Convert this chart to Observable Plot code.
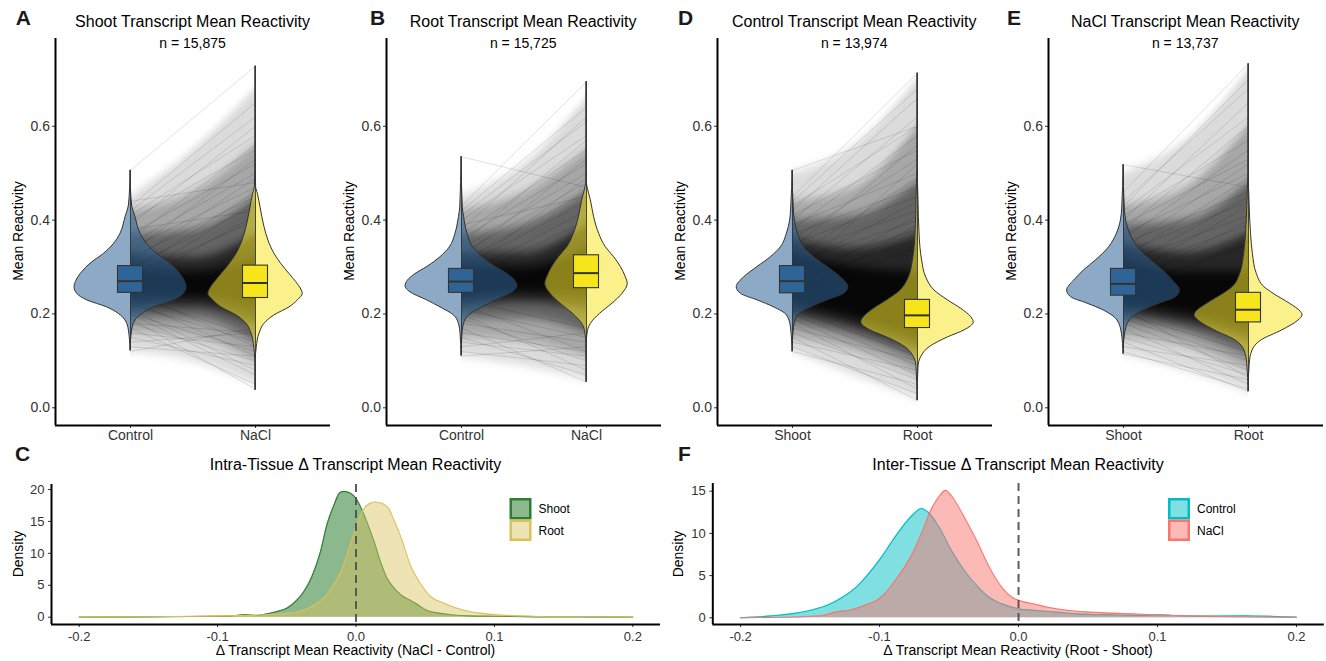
<!DOCTYPE html>
<html><head><meta charset="utf-8">
<script src="https://cdn.jsdelivr.net/npm/d3@7"></script>
<script src="https://cdn.jsdelivr.net/npm/@observablehq/plot@0.6"></script>
<style>
body{margin:0;background:#fff;}
#wrap{position:relative;width:1326px;height:661px;overflow:hidden;background:#fff;}
#wrap > .p{position:absolute;}
#wrap > svg.ov{position:absolute;left:0;top:0;pointer-events:none;}
</style></head><body><div id="wrap"></div>
<script>
// ---------------- DATA ----------------
const topLetters = ["A", "B", "D", "E"];
const topTitles = ["Shoot Transcript Mean Reactivity", "Root Transcript Mean Reactivity", "Control Transcript Mean Reactivity", "NaCl Transcript Mean Reactivity"];
const topN = ["n = 15,875", "n = 15,725", "n = 13,974", "n = 13,737"];
const topCats = [["Control", "NaCl"], ["Control", "NaCl"], ["Shoot", "Root"], ["Shoot", "Root"]];
const topYLabel = "Mean Reactivity";
const topYTicks = [0, 0.2, 0.4, 0.6];

// violin profiles: reactivity value and half-width (in category units)
const A_v1_y = [0.122, 0.165, 0.186, 0.2, 0.214, 0.229, 0.243, 0.257, 0.271, 0.289, 0.307, 0.328, 0.349, 0.371, 0.406, 0.431, 0.47, 0.506];
const A_v1_w = [0, 0.013, 0.04, 0.093, 0.187, 0.347, 0.427, 0.448, 0.432, 0.387, 0.32, 0.213, 0.133, 0.08, 0.04, 0.013, 0.003, 0];
const A_v2_y = [0.038, 0.1, 0.129, 0.158, 0.179, 0.197, 0.214, 0.229, 0.243, 0.25, 0.268, 0.285, 0.307, 0.328, 0.356, 0.385, 0.427, 0.456, 0.47, 0.548, 0.728];
const A_v2_w = [0, 0.002, 0.01, 0.032, 0.072, 0.152, 0.272, 0.339, 0.378, 0.37, 0.325, 0.272, 0.205, 0.152, 0.104, 0.072, 0.04, 0.019, 0.005, 0.001, 0];
const B_v1_y = [0.111, 0.158, 0.179, 0.197, 0.214, 0.229, 0.246, 0.259, 0.271, 0.285, 0.3, 0.321, 0.342, 0.371, 0.406, 0.427, 0.535];
const B_v1_w = [0, 0.008, 0.021, 0.061, 0.168, 0.275, 0.408, 0.448, 0.429, 0.368, 0.275, 0.168, 0.093, 0.048, 0.021, 0.01, 0];
const B_v2_y = [0.055, 0.136, 0.158, 0.179, 0.2, 0.222, 0.243, 0.264, 0.278, 0.3, 0.321, 0.342, 0.371, 0.406, 0.442, 0.47, 0.484, 0.695];
const B_v2_w = [0, 0.002, 0.008, 0.035, 0.107, 0.208, 0.288, 0.33, 0.315, 0.275, 0.221, 0.155, 0.101, 0.061, 0.035, 0.008, 0.002, 0];
const D_v1_y = [0.12, 0.172, 0.197, 0.214, 0.229, 0.243, 0.257, 0.278, 0.3, 0.321, 0.342, 0.371, 0.399, 0.427, 0.506];
const D_v1_w = [0, 0.013, 0.045, 0.147, 0.28, 0.413, 0.446, 0.387, 0.28, 0.173, 0.093, 0.045, 0.019, 0.01, 0];
const D_v2_y = [0.016, 0.087, 0.108, 0.129, 0.15, 0.165, 0.182, 0.193, 0.211, 0.229, 0.25, 0.278, 0.314, 0.371, 0.442, 0.513, 0.713];
const D_v2_w = [0, 0.008, 0.029, 0.096, 0.243, 0.376, 0.45, 0.43, 0.349, 0.243, 0.136, 0.069, 0.037, 0.016, 0.008, 0.002, 0];
const E_v1_y = [0.115, 0.158, 0.186, 0.207, 0.222, 0.236, 0.25, 0.271, 0.293, 0.314, 0.342, 0.371, 0.399, 0.427, 0.518];
const E_v1_w = [0, 0.013, 0.048, 0.155, 0.288, 0.421, 0.451, 0.395, 0.315, 0.221, 0.115, 0.053, 0.021, 0.01, 0];
const E_v2_y = [0.035, 0.094, 0.122, 0.143, 0.165, 0.186, 0.197, 0.204, 0.222, 0.243, 0.257, 0.285, 0.328, 0.371, 0.44, 0.5, 0.733];
const E_v2_w = [0, 0.01, 0.032, 0.1, 0.27, 0.4, 0.432, 0.42, 0.33, 0.2, 0.128, 0.067, 0.035, 0.02, 0.008, 0.002, 0];

// boxplot quartiles [first category, second category]
const A_q1 = [0.245, 0.234], A_med = [0.27, 0.266], A_q3 = [0.302, 0.303];
const B_q1 = [0.245, 0.255], B_med = [0.269, 0.287], B_q3 = [0.296, 0.325];
const D_q1 = [0.244, 0.17], D_med = [0.27, 0.197], D_q3 = [0.302, 0.23];
const E_q1 = [0.239, 0.182], E_med = [0.264, 0.209], E_q3 = [0.296, 0.245];

// paired-line envelopes (nested ranges): [left lo, left hi, middle lo, middle hi, right lo, right hi]
const A_bands = [[0.12, 0.45, 0.10, 0.55, 0.05, 0.68], [0.16, 0.42, 0.15, 0.46, 0.10, 0.56], [0.19, 0.37, 0.19, 0.38, 0.14, 0.45], [0.21, 0.33, 0.215, 0.32, 0.18, 0.37], [0.235, 0.30, 0.235, 0.29, 0.215, 0.32]];
const B_bands = [[0.11, 0.45, 0.09, 0.52, 0.06, 0.66], [0.15, 0.42, 0.14, 0.46, 0.11, 0.55], [0.19, 0.37, 0.19, 0.39, 0.16, 0.46], [0.215, 0.33, 0.225, 0.33, 0.21, 0.39], [0.235, 0.30, 0.245, 0.30, 0.24, 0.34]];
const D_bands = [[0.12, 0.50, 0.07, 0.56, 0.02, 0.70], [0.15, 0.44, 0.12, 0.47, 0.07, 0.60], [0.18, 0.40, 0.15, 0.41, 0.10, 0.48], [0.20, 0.36, 0.17, 0.34, 0.125, 0.37], [0.22, 0.33, 0.19, 0.30, 0.15, 0.29]];
const E_bands = [[0.115, 0.50, 0.08, 0.57, 0.035, 0.72], [0.15, 0.43, 0.13, 0.47, 0.08, 0.60], [0.18, 0.39, 0.16, 0.40, 0.11, 0.48], [0.20, 0.35, 0.18, 0.33, 0.145, 0.37], [0.22, 0.32, 0.20, 0.29, 0.17, 0.29]];

// individual visible paired lines (value in first category -> value in second category)
const A_from = [0.506, 0.43, 0.42, 0.41, 0.40, 0.39, 0.37, 0.36, 0.35, 0.34, 0.33, 0.32, 0.31, 0.30, 0.29, 0.44, 0.38, 0.28, 0.27, 0.26, 0.12, 0.13, 0.14, 0.15, 0.16, 0.17, 0.18, 0.19, 0.20, 0.21, 0.22, 0.23, 0.24, 0.25, 0.2, 0.18];
const A_to   = [0.728, 0.65, 0.62, 0.58, 0.55, 0.60, 0.52, 0.56, 0.50, 0.47, 0.53, 0.45, 0.49, 0.43, 0.46, 0.48, 0.42, 0.40, 0.44, 0.41, 0.17, 0.11, 0.16, 0.09, 0.13, 0.05, 0.10, 0.04, 0.12, 0.08, 0.14, 0.11, 0.15, 0.13, 0.07, 0.16];
const B_from = [0.535, 0.43, 0.42, 0.41, 0.40, 0.38, 0.37, 0.36, 0.35, 0.34, 0.33, 0.32, 0.31, 0.30, 0.29, 0.28, 0.39, 0.27, 0.11, 0.12, 0.13, 0.14, 0.15, 0.16, 0.17, 0.18, 0.19, 0.20, 0.21, 0.22, 0.23];
const B_to   = [0.47, 0.695, 0.64, 0.61, 0.58, 0.62, 0.55, 0.52, 0.57, 0.50, 0.48, 0.53, 0.46, 0.44, 0.49, 0.42, 0.45, 0.40, 0.13, 0.09, 0.16, 0.11, 0.07, 0.12, 0.055, 0.14, 0.10, 0.08, 0.15, 0.12, 0.17];
const D_from = [0.506, 0.45, 0.43, 0.42, 0.41, 0.40, 0.39, 0.38, 0.37, 0.36, 0.35, 0.34, 0.33, 0.32, 0.31, 0.30, 0.29, 0.28, 0.27, 0.26, 0.25, 0.24, 0.44, 0.12, 0.13, 0.14, 0.15, 0.16, 0.17, 0.18, 0.19, 0.20, 0.21];
const D_to   = [0.60, 0.713, 0.60, 0.66, 0.55, 0.62, 0.50, 0.58, 0.47, 0.53, 0.45, 0.56, 0.42, 0.49, 0.40, 0.44, 0.38, 0.52, 0.36, 0.41, 0.34, 0.39, 0.68, 0.05, 0.03, 0.08, 0.016, 0.06, 0.10, 0.04, 0.07, 0.09, 0.11];
const E_from = [0.518, 0.46, 0.44, 0.42, 0.41, 0.40, 0.39, 0.38, 0.37, 0.36, 0.35, 0.34, 0.33, 0.32, 0.31, 0.30, 0.29, 0.28, 0.27, 0.26, 0.25, 0.43, 0.115, 0.12, 0.13, 0.14, 0.15, 0.16, 0.17, 0.18, 0.19, 0.20, 0.21];
const E_to   = [0.47, 0.733, 0.68, 0.62, 0.57, 0.65, 0.53, 0.60, 0.50, 0.55, 0.46, 0.52, 0.44, 0.49, 0.41, 0.45, 0.39, 0.43, 0.37, 0.40, 0.35, 0.70, 0.06, 0.04, 0.09, 0.035, 0.07, 0.11, 0.05, 0.08, 0.10, 0.12, 0.065];

// density panels
const botLetters = ["C", "F"];
const botTitles = ["Intra-Tissue \u0394 Transcript Mean Reactivity", "Inter-Tissue \u0394 Transcript Mean Reactivity"];
const botXLabels = ["\u0394 Transcript Mean Reactivity (NaCl - Control)", "\u0394 Transcript Mean Reactivity (Root - Shoot)"];
const botYLabel = "Density";
const botXTicks = [-0.2, -0.1, 0, 0.1, 0.2];
const C_yTicks = [0, 5, 10, 15, 20];
const F_yTicks = [0, 5, 10, 15];
const C_series = ["Shoot", "Root"];
const F_series = ["Control", "NaCl"];

const C_shoot_x = [-0.2, -0.15, -0.12, -0.1, -0.09, -0.08, -0.072, -0.065, -0.057, -0.05, -0.044, -0.038, -0.032, -0.0255, -0.021, -0.016, -0.0117, -0.0086, -0.004, 0, 0.0037, 0.0083, 0.013, 0.0175, 0.022, 0.027, 0.033, 0.039, 0.045, 0.051, 0.061, 0.07, 0.082, 0.1, 0.13, 0.16, 0.2];
const C_shoot_d = [0.01, 0.05, 0.1, 0.15, 0.2, 0.4, 0.25, 0.5, 0.9, 1.4, 2.4, 3.9, 6.3, 10.4, 14.5, 17.5, 19.5, 19.7, 19.4, 18.6, 17.1, 14.7, 11.9, 8.8, 6.3, 4.7, 3.4, 2.7, 1.9, 1.1, 0.6, 0.35, 0.2, 0.15, 0.05, 0.02, 0.01];
const C_root_x = [-0.2, -0.15, -0.1, -0.07, -0.05, -0.041, -0.0286, -0.019, -0.0102, -0.004, 0.0006, 0.0052, 0.0098, 0.0138, 0.019, 0.0237, 0.028, 0.033, 0.039, 0.0468, 0.054, 0.0637, 0.073, 0.082, 0.091, 0.1, 0.113, 0.128, 0.144, 0.17, 0.2];
const C_root_d = [0.01, 0.08, 0.2, 0.35, 0.6, 0.9, 2.1, 4.1, 7.5, 11.4, 14.5, 16.8, 17.8, 18.05, 17.8, 17.0, 14.9, 12.2, 8.3, 5.2, 3.2, 2.2, 1.4, 0.9, 0.6, 0.4, 0.25, 0.15, 0.05, 0.03, 0.01];
const F_ctrl_x = [-0.2, -0.19, -0.175, -0.16, -0.148, -0.136, -0.127, -0.117, -0.108, -0.099, -0.09, -0.083, -0.0755, -0.07, -0.065, -0.057, -0.048, -0.039, -0.03, -0.021, -0.012, 0, 0.012, 0.027, 0.042, 0.066, 0.09, 0.099, 0.126, 0.162, 0.2];
const F_ctrl_d = [0.02, 0.08, 0.27, 0.55, 0.95, 1.6, 2.4, 3.6, 5.2, 7.1, 9.3, 10.9, 12.3, 12.95, 12.5, 10.7, 7.9, 5.6, 3.8, 2.4, 1.65, 1.06, 0.86, 0.67, 0.47, 0.35, 0.27, 0.35, 0.2, 0.24, 0.08];
const F_nacl_x = [-0.2, -0.16, -0.141, -0.132, -0.12, -0.111, -0.099, -0.087, -0.078, -0.069, -0.063, -0.057, -0.0526, -0.048, -0.039, -0.03, -0.021, -0.012, -0.0045, 0.0015, 0.012, 0.021, 0.036, 0.051, 0.081, 0.111, 0.141, 0.2];
const F_nacl_d = [0.0, 0.1, 0.27, 0.67, 0.95, 1.45, 2.4, 4.8, 7.1, 10.3, 12.8, 14.4, 15.1, 14.4, 11.9, 9.1, 6.0, 3.6, 2.4, 2.0, 1.6, 1.25, 0.86, 0.67, 0.47, 0.27, 0.16, 0.04];

// ---------------- STYLE ----------------
const FONT = '"Liberation Sans", Arial, Helvetica, sans-serif';
const violinFill = ["#2e6296", "#f5e52a"];
const boxFill = ["#2f6596", "#f7e51c"];
const bandOpacity = [0.14, 0.24, 0.4, 0.62, 0.82];
const C_colors = [{stroke: "#2e7d32", fill: "#2e7d32", op: 0.55}, {stroke: "#d8c25a", fill: "#d8c25a", op: 0.45}];
const F_colors = [{stroke: "#00bfc4", fill: "#00bfc4", op: 0.5}, {stroke: "#f8766d", fill: "#f8766d", op: 0.5}];

const wrap = document.getElementById("wrap");
let panelId = 0;

function violinPanel(cfg) {
  const marks = [];
  cfg.bands.forEach((b, i) => {
    const rows = [{x: 1, lo: b[0], hi: b[1]}, {x: 1.5, lo: b[2], hi: b[3]}, {x: 2, lo: b[4], hi: b[5]}];
    marks.push(Plot.areaY(rows, {x: "x", y1: "lo", y2: "hi", fill: "#000", fillOpacity: bandOpacity[i], curve: "monotone-x", ariaDescription: "band"}));
  });
  const segs = cfg.from.map((f, i) => ({c1: 1, c2: 2, v1: f, v2: cfg.to[i]}));
  marks.push(Plot.link(segs, {x1: "c1", x2: "c2", y1: "v1", y2: "v2", stroke: "#000", strokeOpacity: 0.22, strokeWidth: 0.55}));
  cfg.violins.forEach((v, i) => {
    const c = i + 1;
    const rows = v.y.map((y, j) => ({y, w: v.w[j]}));
    marks.push(Plot.areaX(rows, {y: "y", x1: d => c - d.w, x2: d => c + d.w, fill: violinFill[i], fillOpacity: 0.55, stroke: "#333", strokeWidth: 1, curve: "monotone-y"}));
    marks.push(Plot.ruleX([{c, lo: v.y[0], hi: v.y[v.y.length - 1]}], {x: "c", y1: "lo", y2: "hi", stroke: "#333", strokeWidth: 0.9}));
  });
  cfg.q1.forEach((q, i) => {
    const c = i + 1;
    const row = [{a: c - 0.1, b: c + 0.1, q1: q, med: cfg.med[i], q3: cfg.q3[i]}];
    marks.push(Plot.rect(row, {x1: "a", x2: "b", y1: "q1", y2: "q3", fill: boxFill[i], stroke: "#333", strokeWidth: 1.1}));
    marks.push(Plot.ruleY(row, {y: "med", x1: "a", x2: "b", stroke: "#333", strokeWidth: 2}));
  });
  const yDom = [-0.0377, 0.787];
  marks.push(Plot.axisY({ticks: topYTicks, tickFormat: d => d.toFixed(1), tickSize: 3, tickPadding: 2.5, label: null}));
  marks.push(Plot.axisX({ticks: [1, 2], tickFormat: i => cfg.cats[i - 1], tickSize: 3, tickPadding: 2, label: null}));
  marks.push(Plot.ruleX([0.4], {stroke: "#000", strokeWidth: 2}));
  marks.push(Plot.ruleY([yDom[0]], {stroke: "#000", strokeWidth: 2}));
  const svg = Plot.plot({
    width: 330, height: 455, marginLeft: 55, marginRight: 0, marginTop: 38, marginBottom: 30,
    x: {domain: [0.4, 2.6]}, y: {domain: yDom},
    style: {fontFamily: FONT, fontSize: "14px", color: "#333", background: "transparent", overflow: "visible"},
    marks
  });
  // soften the edges of the nested line envelopes (vertical blur only)
  const fid = "bandblur" + (panelId++);
  const ns = "http://www.w3.org/2000/svg";
  const defs = document.createElementNS(ns, "defs");
  const filt = document.createElementNS(ns, "filter");
  filt.setAttribute("id", fid);
  filt.setAttribute("x", "-5%"); filt.setAttribute("y", "-20%");
  filt.setAttribute("width", "110%"); filt.setAttribute("height", "140%");
  const blur = document.createElementNS(ns, "feGaussianBlur");
  blur.setAttribute("stdDeviation", "0 5");
  filt.appendChild(blur); defs.appendChild(filt); svg.insertBefore(defs, svg.firstChild);
  svg.querySelectorAll('[aria-description="band"]').forEach(g => g.setAttribute("filter", `url(#${fid})`));
  svg.classList.add("p");
  svg.style.left = cfg.left + "px";
  svg.style.top = "0px";
  wrap.appendChild(svg);
}

function densityPanel(cfg) {
  const marks = [];
  cfg.series.forEach((s, i) => {
    const rows = s.x.map((x, j) => ({x, d: s.d[j]}));
    const col = cfg.colors[i];
    marks.push(Plot.areaY(rows, {x: "x", y: "d", fill: col.fill, fillOpacity: col.op, curve: "monotone-x"}));
    marks.push(Plot.lineY(rows, {x: "x", y: "d", stroke: col.stroke, strokeWidth: 1.1, curve: "monotone-x"}));
  });
  marks.push(Plot.ruleX([0], {stroke: "#4d4d4d", strokeWidth: 2, strokeDasharray: "8,5", strokeOpacity: 0.9}));
  marks.push(Plot.axisY({ticks: cfg.yTicks, tickSize: 3, tickPadding: 4, label: null}));
  marks.push(Plot.axisX({ticks: botXTicks, tickFormat: d => d.toFixed(1), tickSize: 3, tickPadding: 4, label: null}));
  marks.push(Plot.ruleX([-0.22], {stroke: "#000", strokeWidth: 2}));
  marks.push(Plot.ruleY([cfg.yDom[0]], {stroke: "#000", strokeWidth: 2}));
  const svg = Plot.plot({
    width: 663, height: cfg.height, marginLeft: cfg.ml, marginRight: cfg.mr, marginTop: cfg.mt, marginBottom: 37,
    x: {domain: [-0.22, 0.22]}, y: {domain: cfg.yDom},
    style: {fontFamily: FONT, fontSize: "13px", color: "#333", background: "transparent", overflow: "visible"},
    marks
  });
  svg.classList.add("p");
  svg.style.left = cfg.left + "px";
  svg.style.top = cfg.top + "px";
  wrap.appendChild(svg);
}

const topPanels = [
  {bands: A_bands, from: A_from, to: A_to, violins: [{y: A_v1_y, w: A_v1_w}, {y: A_v2_y, w: A_v2_w}], q1: A_q1, med: A_med, q3: A_q3},
  {bands: B_bands, from: B_from, to: B_to, violins: [{y: B_v1_y, w: B_v1_w}, {y: B_v2_y, w: B_v2_w}], q1: B_q1, med: B_med, q3: B_q3},
  {bands: D_bands, from: D_from, to: D_to, violins: [{y: D_v1_y, w: D_v1_w}, {y: D_v2_y, w: D_v2_w}], q1: D_q1, med: D_med, q3: D_q3},
  {bands: E_bands, from: E_from, to: E_to, violins: [{y: E_v1_y, w: E_v1_w}, {y: E_v2_y, w: E_v2_w}], q1: E_q1, med: E_med, q3: E_q3}
];
const topAxisX = [55, 385.7, 716.7, 1047.7];
const topLetterX = [15.7, 370, 678, 1007];
topPanels.forEach((p, i) => violinPanel({...p, cats: topCats[i], left: topAxisX[i] - 55}));

densityPanel({series: [{x: C_shoot_x, d: C_shoot_d}, {x: C_root_x, d: C_root_d}], colors: C_colors, yTicks: C_yTicks,
  yDom: [-1.143, 20.78], left: 0, top: 476, height: 185, mt: 8, ml: 51, mr: 3});
densityPanel({series: [{x: F_ctrl_x, d: F_ctrl_d}, {x: F_nacl_x, d: F_nacl_d}], colors: F_colors, yTicks: F_yTicks,
  yDom: [-0.794, 15.91], left: 663, top: 476, height: 185, mt: 7, ml: 49.3, mr: 2.2});

// ---------------- TEXT OVERLAY ----------------
const ov = d3.select(wrap).append("svg").attr("class", "ov").attr("width", 1326).attr("height", 661)
  .style("font-family", FONT);
function txt(s, x, y, size, opts = {}) {
  const t = ov.append("text").attr("x", x).attr("y", y).attr("font-size", size)
    .attr("text-anchor", opts.anchor || "middle").attr("fill", opts.fill || "#000").text(s);
  if (opts.bold) t.attr("font-weight", "bold");
  if (opts.rotate) t.attr("transform", `rotate(-90 ${x} ${y})`).attr("dominant-baseline", "central");
  return t;
}
topTitles.forEach((t, i) => {
  const cx = topAxisX[i] + 137.5;
  txt(t, cx, 26.5, 16);
  txt(topN[i], cx, 48, 14);
  txt(topLetters[i], topLetterX[i], 25, 21, {anchor: "start", bold: true, fill: "#1a1a1a"});
  txt(topYLabel, topAxisX[i] - 37, 231, 14, {rotate: true});
});
const botAxis = [[51, 660], [712.3, 1323.8]];
const botLetterX = [15, 678];
const botYLabX = [18, 678];
botTitles.forEach((t, i) => {
  const cx = (botAxis[i][0] + botAxis[i][1]) / 2;
  txt(t, cx, 470, 16);
  txt(botXLabels[i], cx, 655, 14);
  txt(botLetters[i], botLetterX[i], 461, 21, {anchor: "start", bold: true, fill: "#1a1a1a"});
  txt(botYLabel, botYLabX[i], 554, 14, {rotate: true});
});
// legends
function legend(names, colors, x, y) {
  names.forEach((n, i) => {
    const yy = y + i * 21.5;
    ov.append("rect").attr("x", x + 1.25).attr("y", yy + 1.25).attr("width", 19.5).attr("height", 19)
      .attr("fill", colors[i].fill).attr("fill-opacity", colors[i].op)
      .attr("stroke", colors[i].stroke).attr("stroke-width", 2.5);
    ov.append("text").attr("x", x + 29).attr("y", yy + 11).attr("dominant-baseline", "central")
      .attr("font-size", 12).attr("fill", "#000").text(n);
  });
}
legend(C_series, C_colors, 509.5, 498);
legend(F_series, F_colors, 1168, 498);
</script>
</body></html>
